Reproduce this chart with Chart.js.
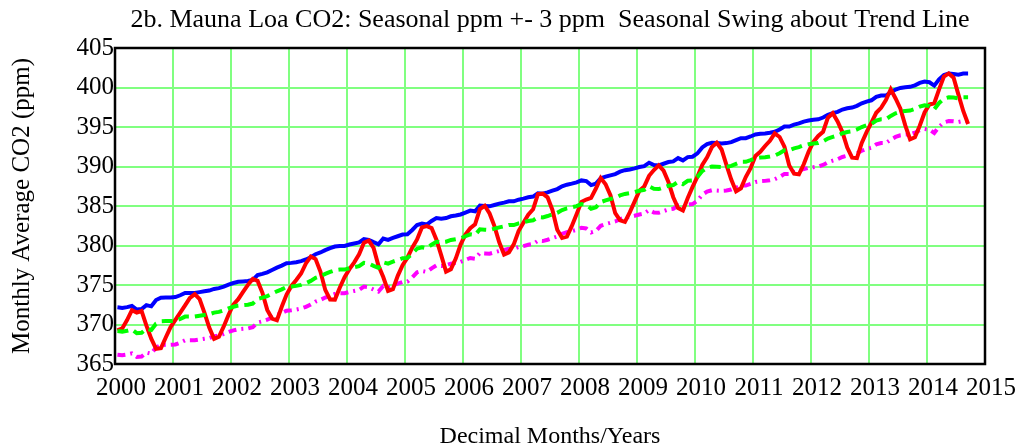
<!DOCTYPE html>
<html>
<head>
<meta charset="utf-8">
<script src="https://cdn.jsdelivr.net/npm/chart.js@4.4.1/dist/chart.umd.min.js"></script>
<style>
  html, body { margin: 0; padding: 0; background: #ffffff; }
  #wrap { width: 1021px; height: 446px; }
</style>
</head>
<body>
<div id="wrap"><canvas id="c" width="1021" height="446"></canvas></div>
<script>
// ---- data (monthly, Jan 2000 .. Sep 2014) ----
const startYear = 2000;
const monthlyCO2 = [
  369.25, 369.50, 370.56, 371.82, 371.51, 371.71, 369.85, 368.20, 366.91, 366.99, 368.36, 369.67,
  370.59, 371.51, 372.43, 373.37, 373.85, 373.22, 371.50, 369.61, 368.18, 368.45, 369.76, 371.24,
  372.53, 373.20, 374.12, 375.02, 375.76, 375.52, 374.01, 371.85, 370.75, 370.55, 372.25, 373.79,
  374.88, 375.64, 376.45, 377.73, 378.60, 378.28, 376.70, 374.38, 373.17, 373.15, 374.66, 375.99,
  377.00, 377.87, 378.88, 380.35, 380.62, 379.69, 377.47, 376.01, 374.25, 374.46, 376.16, 377.51,
  378.46, 379.73, 380.77, 382.29, 382.45, 382.21, 380.74, 378.74, 376.70, 377.00, 378.35, 380.11,
  381.38, 382.19, 382.67, 384.61, 385.03, 384.05, 382.46, 380.41, 378.85, 379.13, 380.15, 381.82,
  382.89, 383.90, 384.58, 386.50, 386.56, 386.10, 384.50, 381.99, 380.96, 381.12, 382.45, 383.95,
  385.52, 385.82, 386.03, 387.21, 388.54, 387.76, 386.36, 384.09, 383.18, 382.99, 384.19, 385.56,
  386.94, 387.48, 388.82, 389.55, 390.14, 389.48, 388.03, 386.11, 384.74, 384.43, 386.02, 387.42,
  388.71, 390.20, 391.17, 392.46, 393.00, 392.15, 390.20, 388.35, 386.85, 387.24, 388.67, 389.79,
  391.33, 391.86, 392.60, 393.25, 394.19, 393.74, 392.51, 390.13, 389.08, 389.00, 390.28, 391.86,
  393.12, 393.86, 394.40, 396.18, 396.74, 395.71, 394.36, 392.39, 391.11, 391.05, 392.98, 394.34,
  395.55, 396.80, 397.43, 398.41, 399.78, 398.61, 397.32, 395.20, 393.45, 393.70, 395.16, 396.84,
  397.85, 398.01, 399.77, 401.38, 401.78, 401.25, 399.10, 397.03, 395.38
];
const upperSwing = [
  372.17, 372.10, 372.20, 372.35, 371.90, 371.95, 372.45, 372.30, 373.10, 373.40, 373.43, 373.43,
  373.47, 373.70, 374.00, 374.00, 374.00, 374.10, 374.20, 374.30, 374.50, 374.60, 374.80, 375.05,
  375.25, 375.40, 375.45, 375.50, 375.65, 376.25, 376.40, 376.60, 376.90, 377.20, 377.45, 377.75,
  377.80, 377.89, 378.02, 378.23, 378.52, 378.90, 379.12, 379.41, 379.66, 379.87, 379.95, 379.95,
  380.12, 380.25, 380.38, 380.80, 380.71, 380.42, 380.16, 380.88, 380.71, 380.96, 381.17, 381.39,
  381.43, 381.97, 382.60, 382.78, 382.65, 383.10, 383.48, 383.40, 383.48, 383.70, 383.80, 383.93,
  384.17, 384.42, 384.33, 385.05, 385.00, 384.96, 385.13, 385.30, 385.43, 385.59, 385.59, 385.80,
  385.93, 386.10, 386.19, 386.60, 386.56, 386.73, 386.94, 387.14, 387.49, 387.70, 387.83, 387.99,
  388.24, 388.16, 387.65, 387.83, 388.50, 388.71, 388.88, 389.04, 389.34, 389.53, 389.63, 389.76,
  389.93, 390.05, 390.48, 390.18, 390.14, 390.35, 390.56, 390.65, 391.06, 390.77, 391.19, 391.24,
  391.66, 392.42, 392.83, 393.00, 392.96, 392.92, 392.96, 393.08, 393.33, 393.59, 393.59, 393.80,
  394.05, 394.14, 394.18, 394.27, 394.39, 394.68, 395.06, 395.06, 395.30, 395.45, 395.69, 395.82,
  395.91, 395.98, 396.20, 396.54, 396.74, 396.92, 397.21, 397.37, 397.46, 397.68, 398.00, 398.22,
  398.38, 398.81, 398.98, 398.98, 399.40, 399.74, 399.95, 400.03, 400.08, 400.28, 400.58, 400.75,
  400.66, 400.24, 401.04, 401.59, 401.76, 401.72, 401.63, 401.76, 401.76
];
const trendLine = [
  369.17, 369.10, 369.20, 369.35, 368.90, 368.95, 369.45, 369.30, 370.10, 370.40, 370.43, 370.43,
  370.47, 370.70, 371.00, 371.00, 371.00, 371.10, 371.20, 371.30, 371.50, 371.60, 371.80, 372.05,
  372.25, 372.40, 372.45, 372.50, 372.65, 373.25, 373.40, 373.60, 373.90, 374.20, 374.45, 374.75,
  374.80, 374.89, 375.02, 375.23, 375.52, 375.90, 376.12, 376.41, 376.66, 376.87, 376.95, 376.95,
  377.12, 377.25, 377.38, 377.80, 377.71, 377.42, 377.16, 377.88, 377.71, 377.96, 378.17, 378.39,
  378.43, 378.97, 379.60, 379.78, 379.65, 380.10, 380.48, 380.40, 380.48, 380.70, 380.80, 380.93,
  381.17, 381.42, 381.33, 382.05, 382.00, 381.96, 382.13, 382.30, 382.43, 382.59, 382.59, 382.80,
  382.93, 383.10, 383.19, 383.60, 383.56, 383.73, 383.94, 384.14, 384.49, 384.70, 384.83, 384.99,
  385.24, 385.16, 384.65, 384.83, 385.50, 385.71, 385.88, 386.04, 386.34, 386.53, 386.63, 386.76,
  386.93, 387.05, 387.48, 387.18, 387.14, 387.35, 387.56, 387.65, 388.06, 387.77, 388.19, 388.24,
  388.66, 389.42, 389.83, 390.00, 389.96, 389.92, 389.96, 390.08, 390.33, 390.59, 390.59, 390.80,
  391.05, 391.14, 391.18, 391.27, 391.39, 391.68, 392.06, 392.06, 392.30, 392.45, 392.69, 392.82,
  392.91, 392.98, 393.20, 393.54, 393.74, 393.92, 394.21, 394.37, 394.46, 394.68, 395.00, 395.22,
  395.38, 395.81, 395.98, 395.98, 396.40, 396.74, 396.95, 397.03, 397.08, 397.28, 397.58, 397.75,
  397.66, 397.24, 398.04, 398.59, 398.76, 398.72, 398.63, 398.76, 398.76
];
const lowerSwing = [
  366.17, 366.10, 366.20, 366.35, 365.90, 365.95, 366.45, 366.30, 367.10, 367.40, 367.43, 367.43,
  367.47, 367.70, 368.00, 368.00, 368.00, 368.10, 368.20, 368.30, 368.50, 368.60, 368.80, 369.05,
  369.25, 369.40, 369.45, 369.50, 369.65, 370.25, 370.40, 370.60, 370.90, 371.20, 371.45, 371.75,
  371.80, 371.89, 372.02, 372.23, 372.52, 372.90, 373.12, 373.41, 373.66, 373.87, 373.95, 373.95,
  374.12, 374.25, 374.38, 374.80, 374.71, 374.42, 374.16, 374.88, 374.71, 374.96, 375.17, 375.39,
  375.43, 375.97, 376.60, 376.78, 376.65, 377.10, 377.48, 377.40, 377.48, 377.70, 377.80, 377.93,
  378.17, 378.42, 378.33, 379.05, 379.00, 378.96, 379.13, 379.30, 379.43, 379.59, 379.59, 379.80,
  379.93, 380.10, 380.19, 380.60, 380.56, 380.73, 380.94, 381.14, 381.49, 381.70, 381.83, 381.99,
  382.24, 382.16, 381.65, 381.83, 382.50, 382.71, 382.88, 383.04, 383.34, 383.53, 383.63, 383.76,
  383.93, 384.05, 384.48, 384.18, 384.14, 384.35, 384.56, 384.65, 385.06, 384.77, 385.19, 385.24,
  385.66, 386.42, 386.83, 387.00, 386.96, 386.92, 386.96, 387.08, 387.33, 387.59, 387.59, 387.80,
  388.05, 388.14, 388.18, 388.27, 388.39, 388.68, 389.06, 389.06, 389.30, 389.45, 389.69, 389.82,
  389.91, 389.98, 390.20, 390.54, 390.74, 390.92, 391.21, 391.37, 391.46, 391.68, 392.00, 392.22,
  392.38, 392.81, 392.98, 392.98, 393.40, 393.74, 393.95, 394.03, 394.08, 394.28, 394.58, 394.75,
  394.66, 394.24, 395.04, 395.59, 395.76, 395.72, 395.63, 395.76, 395.76
];
const xTickLabels = [2000, 2001, 2002, 2003, 2004, 2005, 2006, 2007, 2008, 2009, 2010, 2011, 2012, 2013, 2014, 2015];
const yTickLabels = [365, 370, 375, 380, 385, 390, 395, 400, 405];

// decimal dates (mid-month)
const decimalDates = monthlyCO2.map((_, i) => startYear + (i + 0.5) / 12);
const toPts = (arr) => arr.map((v, i) => ({ x: decimalDates[i], y: v }));

const SERIF = "'Liberation Serif', 'Times New Roman', serif";
const GRID = 'rgb(128,255,128)';

const framePlugin = {
  id: 'frame',
  afterDraw(chart) {
    const { ctx, chartArea: a } = chart;
    ctx.save();
    ctx.strokeStyle = '#000';
    ctx.lineWidth = 2.5;
    ctx.strokeRect(a.left, a.top, a.right - a.left, a.bottom - a.top);
    ctx.restore();
  }
};

new Chart(document.getElementById('c'), {
  type: 'line',
  data: {
    datasets: [
      { label: 'Trend', data: toPts(trendLine), borderColor: '#00ff00', borderWidth: 4, borderDash: [11, 6], pointRadius: 0, order: 1 },
      { label: 'Monthly', data: toPts(monthlyCO2), borderColor: '#ff0000', borderWidth: 4, pointRadius: 0, order: 2 },
      { label: 'Lower', data: toPts(lowerSwing), borderColor: '#ff00ff', borderWidth: 4, borderDash: [8, 5, 2, 5], pointRadius: 0, order: 3 },
      { label: 'Upper', data: toPts(upperSwing), borderColor: '#0000ff', borderWidth: 4, pointRadius: 0, order: 4 }
    ]
  },
  options: {
    responsive: false,
    animation: false,
    events: [],
    layout: { padding: { left: 0, right: 36, top: 0, bottom: 0 } },
    plugins: {
      legend: { display: false },
      tooltip: { enabled: false },
      title: {
        display: true,
        fullSize: false,
        text: '2b. Mauna Loa CO2: Seasonal ppm +- 3 ppm  Seasonal Swing about Trend Line',
        color: '#000',
        font: { family: SERIF, size: 26, weight: 'normal', lineHeight: 1.2 },
        padding: { top: 4.5, bottom: 12.3 }
      }
    },
    scales: {
      x: {
        type: 'linear',
        min: 2000,
        max: 2015,
        afterFit: (s) => { s.height = 82; },
        afterBuildTicks: (s) => { s.ticks = xTickLabels.map(v => ({ value: v })); },
        ticks: {
          color: '#000',
          font: { family: SERIF, size: 25 },
          padding: 9,
          labelOffset: 6,
          maxRotation: 0,
          autoSkip: false,
          callback: (v) => String(v)
        },
        grid: { color: GRID, lineWidth: 2, drawTicks: false },
        border: { display: false },
        title: {
          display: true,
          text: 'Decimal Months/Years',
          color: '#000',
          font: { family: SERIF, size: 24, lineHeight: 1 },
          padding: { top: 0, bottom: -3 }
        }
      },
      y: {
        type: 'linear',
        min: 365,
        max: 405,
        afterFit: (s) => { s.width = 115; },
        afterBuildTicks: (s) => { s.ticks = yTickLabels.map(v => ({ value: v })); },
        ticks: {
          color: '#000',
          font: { family: SERIF, size: 25 },
          padding: 1,
          autoSkip: false,
          callback: (v) => String(v)
        },
        grid: { color: GRID, lineWidth: 2, drawTicks: false },
        border: { display: false },
        title: {
          display: true,
          text: 'Monthly Average CO2 (ppm)',
          color: '#000',
          font: { family: SERIF, size: 25, lineHeight: 1.2 },
          padding: { top: 7, bottom: 0 }
        }
      }
    }
  },
  plugins: [framePlugin]
});
</script>
</body>
</html>
